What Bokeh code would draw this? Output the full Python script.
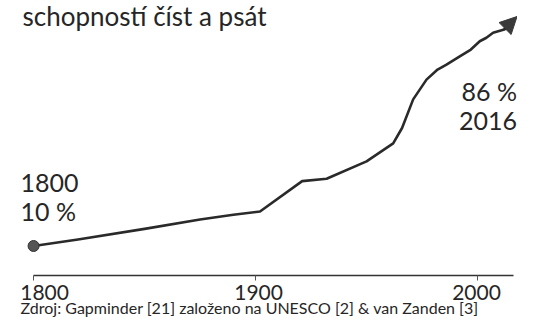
from bokeh.plotting import figure
from bokeh.models import Label, Arrow, NormalHead, FixedTicker, Range1d, ColumnDataSource
from bokeh.core.properties import value
from bokeh.embed import file_html
from bokeh.resources import INLINE

# Data: share of world population able to read and write (%)
years = [1800, 1820, 1850, 1875, 1890, 1902, 1921, 1932, 1950, 1962, 1966,
         1971, 1977, 1982, 1986, 1992, 1997, 2001, 2004, 2007, 2012, 2016]
literacy = [10, 12.2, 15.8, 19.0, 20.6, 21.7, 32.0, 32.8, 38.7, 44.8, 50.0,
            59.7, 66.4, 69.8, 71.5, 74.3, 76.6, 79.4, 80.6, 82.3, 83.4, 86.0]
tick_years = [1800, 1900, 2000]
tick_labels = ["1800", "1900", "2000"]

title_text = "schopností číst a psát"
start_label = ["1800", "10 %"]
end_label = ["86 %", "2016"]
source_text = "Zdroj: Gapminder [21] založeno na UNESCO [2] & van Zanden [3]"

FONT = "Lato"
INK = "#262626"

p = figure(width=517, height=317, output_backend="svg", toolbar_location=None,
           x_range=Range1d(1785.1, 2018.0), y_range=Range1d(-14.24, 93.22),
           y_axis_location=None, min_border_left=0, min_border_right=0,
           min_border_top=0, min_border_bottom=0)
p.outline_line_color = None
p.grid.visible = False
p.background_fill_color = "white"
p.border_fill_color = "white"

ax = p.xaxis[0]
ax.fixed_location = 0
ax.ticker = FixedTicker(ticks=tick_years)
ax.bounds = (years[0], years[-1])
ax.axis_line_color = "#333333"
ax.axis_line_width = 1.5
ax.major_tick_line_color = "#555555"
ax.major_tick_in = 0
ax.major_tick_out = 5
ax.minor_tick_line_color = None
ax.major_label_text_alpha = 0
ax.major_label_text_font_size = "1px"

# tick labels drawn as text so each can sit where the original put it
tick_src = ColumnDataSource(dict(x=tick_years, y=[0] * len(tick_years), t=tick_labels,
                                 dx=[11, 3, -1]))
p.text(x="x", y="y", text="t", source=tick_src, x_offset="dx", y_offset=17,
       text_align="center", text_baseline="alphabetic", text_font=value(FONT),
       text_font_size="21px", text_color=INK)

p.line(years, literacy, line_color="#2a2a2a", line_width=2.6, line_join="round")
p.scatter([years[0]], [literacy[0]], size=11, fill_color="#555555",
          line_color="#333333", line_width=1)

p.add_layout(Arrow(end=NormalHead(size=17, fill_color="#3a3a3a", line_color="#3a3a3a"),
                   x_start=years[-2], y_start=literacy[-2],
                   x_end=2017.8, y_end=87.8,
                   line_color="#2a2a2a", line_width=2.6))

p.add_layout(Label(x=1795.0, y=88.0, text=title_text, text_font=FONT,
                   text_font_size="26px", text_color=INK, text_baseline="alphabetic"))

for txt, yy in zip(start_label, [31.4, 21.8]):
    p.add_layout(Label(x=1794.1, y=yy, text=txt, text_font=FONT,
                       text_font_size="25px", text_color=INK, text_baseline="alphabetic"))

for txt, yy in zip(end_label, [62.4, 52.3]):
    p.add_layout(Label(x=2017.8, y=yy, text=txt, text_font=FONT, text_align="right",
                       text_font_size="25px", text_color=INK, text_baseline="alphabetic"))

p.add_layout(Label(x=1794.1, y=-11.0, text=source_text, text_font=FONT,
                   text_font_size="16px", text_color=INK, text_baseline="alphabetic"))

open("out.html", "w").write(file_html(p, INLINE))
